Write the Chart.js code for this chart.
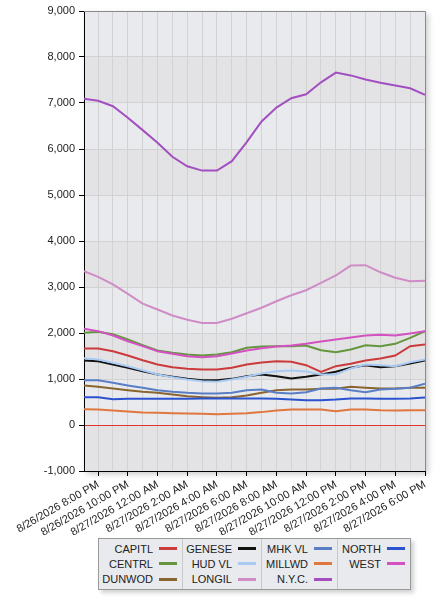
<!DOCTYPE html>
<html>
<head>
<meta charset="utf-8">
<script src="https://cdn.jsdelivr.net/npm/chart.js@4/dist/chart.umd.min.js"></script>
<style>
  html, body { margin: 0; padding: 0; background: #fff; }
  body { width: 440px; height: 600px; position: relative; font-family: 'Liberation Sans', Arial, sans-serif; }
  #wrap { position: absolute; left: 0; top: 0; width: 440px; height: 535px; }
  #legend { position: absolute; left: 98px; top: 538px; width: 313px; height: 52px; box-sizing: border-box;
    border: 1px solid #999; background: #e8eaed; box-shadow: 3px 3px 4px rgba(0,0,0,0.18); display: flex; }
  .col { border-right: 1px solid #c9c9c9; padding-top: 2px; box-sizing: border-box; }
  .col:last-child { border-right: none; }
  .item { height: 15.3px; display: flex; justify-content: flex-end; align-items: center; padding-right: 5px;
    font-size: 11px; color: #222; white-space: nowrap; }
  .sw { width: 18px; height: 3px; margin-left: 6px; }
</style>
</head>
<body>
<div id="wrap"><canvas id="chart"></canvas></div>
<div id="legend"></div>
<script>
// hours relative to 8/26 8:00 PM (first reading is just after 7 PM)
const xHours = [-0.95, 0, 1, 2, 3, 4, 5, 6, 7, 8, 9, 10, 11, 12, 13, 14, 15, 16, 17, 18, 19, 20, 21, 22];
const tickHours = [0, 1, 2, 3, 4, 5, 6, 7, 8, 9, 10, 11, 12, 13, 14, 15, 16, 17, 18, 19, 20, 21, 22];
const tickLabels = ['8/26/2026 8:00 PM', '8/26/2026 10:00 PM', '8/27/2026 12:00 AM', '8/27/2026 2:00 AM',
  '8/27/2026 4:00 AM', '8/27/2026 6:00 AM', '8/27/2026 8:00 AM', '8/27/2026 10:00 AM',
  '8/27/2026 12:00 PM', '8/27/2026 2:00 PM', '8/27/2026 4:00 PM', '8/27/2026 6:00 PM'];

const capitl = [1663, 1663, 1605, 1511, 1409, 1315, 1257, 1221, 1206, 1206, 1243, 1315, 1360, 1388, 1373, 1301, 1156, 1279, 1330, 1402, 1446, 1511, 1714, 1750];
const centrl = [2003, 2025, 1975, 1858, 1735, 1620, 1569, 1532, 1511, 1532, 1583, 1677, 1705, 1714, 1714, 1728, 1627, 1583, 1641, 1735, 1714, 1764, 1895, 2040];
const dunwod = [859, 830, 793, 757, 721, 699, 663, 627, 605, 590, 605, 641, 700, 757, 772, 772, 786, 786, 830, 808, 793, 793, 808, 808];
const genese = [1402, 1388, 1315, 1243, 1170, 1098, 1047, 1003, 974, 974, 1003, 1061, 1098, 1061, 1011, 1047, 1098, 1156, 1243, 1301, 1257, 1279, 1337, 1402];
const hudvl = [1453, 1424, 1351, 1279, 1192, 1098, 1040, 989, 953, 938, 989, 1047, 1119, 1170, 1185, 1163, 1098, 1098, 1230, 1315, 1301, 1279, 1366, 1424];
const longil = [3345, 3220, 3055, 2850, 2640, 2510, 2380, 2290, 2220, 2220, 2310, 2430, 2550, 2690, 2820, 2930, 3090, 3250, 3465, 3475, 3320, 3200, 3125, 3135];
const mhkvl = [974, 974, 917, 859, 808, 757, 721, 699, 685, 685, 699, 757, 772, 699, 685, 714, 793, 808, 757, 714, 772, 786, 808, 895];
const millwd = [344, 337, 315, 293, 272, 265, 257, 250, 243, 236, 243, 257, 280, 315, 337, 337, 337, 301, 337, 337, 322, 315, 322, 322];
const nyc = [7090, 7050, 6930, 6680, 6410, 6135, 5830, 5625, 5530, 5530, 5735, 6150, 6600, 6900, 7105, 7190, 7450, 7660, 7600, 7510, 7440, 7380, 7320, 7180];
const north = [605, 605, 561, 569, 569, 569, 569, 569, 576, 576, 576, 576, 576, 569, 554, 540, 540, 554, 576, 576, 569, 569, 576, 598];
const west = [2090, 2040, 1945, 1822, 1714, 1605, 1547, 1496, 1475, 1496, 1554, 1620, 1670, 1706, 1728, 1764, 1815, 1858, 1902, 1945, 1960, 1945, 1989, 2040];

const names = ['CAPITL', 'CENTRL', 'DUNWOD', 'GENESE', 'HUD VL', 'LONGIL', 'MHK VL', 'MILLWD', 'N.Y.C.', 'NORTH', 'WEST'];
const colors = ['#cc3b3b', '#63963d', '#8a6530', '#111111', '#a9cbf3', '#cf8cc6', '#5a7ec6', '#e0773f', '#a34fc0', '#2b52cf', '#d451c2'];
const series = [capitl, centrl, dunwod, genese, hudvl, longil, mhkvl, millwd, nyc, north, west];

Chart.defaults.font.family = "'Liberation Sans', Arial, sans-serif";
Chart.defaults.font.size = 11;
Chart.defaults.color = '#222';

const plotBg = {
  id: 'plotBg',
  beforeDraw(chart) {
    const { ctx, chartArea: a, scales: { y } } = chart;
    ctx.save();
    ctx.shadowColor = 'rgba(0,0,0,0.22)';
    ctx.shadowBlur = 6;
    ctx.shadowOffsetX = 3;
    ctx.shadowOffsetY = 3;
    ctx.fillStyle = '#e8eaed';
    ctx.fillRect(a.left, a.top, a.width, a.height);
    ctx.restore();
    ctx.save();
    const t = y.ticks;
    for (let i = 0; i < t.length - 1; i++) {
      const lo = Math.min(t[i].value, t[i + 1].value);
      if (Math.abs(Math.round(lo / 1000)) % 2 === 1) {
        const y1 = y.getPixelForValue(t[i].value), y2 = y.getPixelForValue(t[i + 1].value);
        ctx.fillStyle = '#e3e3e6';
        ctx.fillRect(a.left, Math.min(y1, y2), a.width, Math.abs(y2 - y1));
      }
    }
    ctx.restore();
  },
  afterDraw(chart) {
    const { ctx, chartArea: a } = chart;
    ctx.save();
    ctx.strokeStyle = '#8a8a8a';
    ctx.lineWidth = 1;
    ctx.beginPath();
    ctx.moveTo(a.left, a.top + 0.5);
    ctx.lineTo(a.right + 0.5, a.top + 0.5);
    ctx.lineTo(a.right + 0.5, a.bottom);
    ctx.stroke();
    ctx.restore();
  }
};

new Chart(document.getElementById('chart'), {
  type: 'line',
  data: {
    datasets: names.map((n, i) => ({
      label: n,
      data: series[i].map((v, j) => ({ x: xHours[j], y: v })),
      borderColor: colors[i],
      backgroundColor: colors[i],
      borderWidth: 2,
      pointRadius: 0,
      tension: 0,
      order: names.length - i,
    })),
  },
  options: {
    responsive: true,
    maintainAspectRatio: false,
    animation: false,
    locale: 'en-US',
    layout: { padding: { top: 11, right: 15, left: 0, bottom: 0 } },
    plugins: { legend: { display: false }, tooltip: { enabled: false } },
    scales: {
      x: {
        type: 'linear',
        min: -0.95,
        max: 22,
        afterBuildTicks: (s) => { s.ticks = tickHours.map((v) => ({ value: v })); },
        afterFit: (s) => { s.height = 64; },
        ticks: {
          autoSkip: false,
          maxRotation: 30,
          minRotation: 30,
          padding: 2,
          callback: (v) => (v % 2 === 0 ? tickLabels[v / 2] : ''),
        },
        grid: {
          color: '#d2d2d2',
          tickLength: 5,
          tickColor: (c) => (c.tick && c.tick.value % 2 === 0 ? '#000' : 'rgba(0,0,0,0)'),
        },
        border: { color: '#000', width: 1 },
      },
      y: {
        min: -1000,
        max: 9000,
        afterFit: (s) => { s.width = 84; },
        ticks: { stepSize: 1000, padding: 4 },
        grid: {
          color: (c) => (c.tick && c.tick.value === 0 ? '#e0342c' : '#d2d2d2'),
          tickColor: '#000',
          tickLength: 5,
        },
        border: { color: '#000', width: 1 },
      },
    },
  },
  plugins: [plotBg],
});

// html legend, column-major in rows of three
const legend = document.getElementById('legend');
const colWidths = [84, 79, 76, 72];
for (let c = 0; c < 4; c++) {
  const col = document.createElement('div');
  col.className = 'col';
  col.style.width = colWidths[c] + 'px';
  for (let r = 0; r < 3; r++) {
    const i = c * 3 + r;
    if (i >= names.length) break;
    const item = document.createElement('div');
    item.className = 'item';
    item.innerHTML = '<span>' + names[i] + '</span><span class="sw" style="background:' + colors[i] + '"></span>';
    col.appendChild(item);
  }
  legend.appendChild(col);
}
</script>
</body>
</html>
